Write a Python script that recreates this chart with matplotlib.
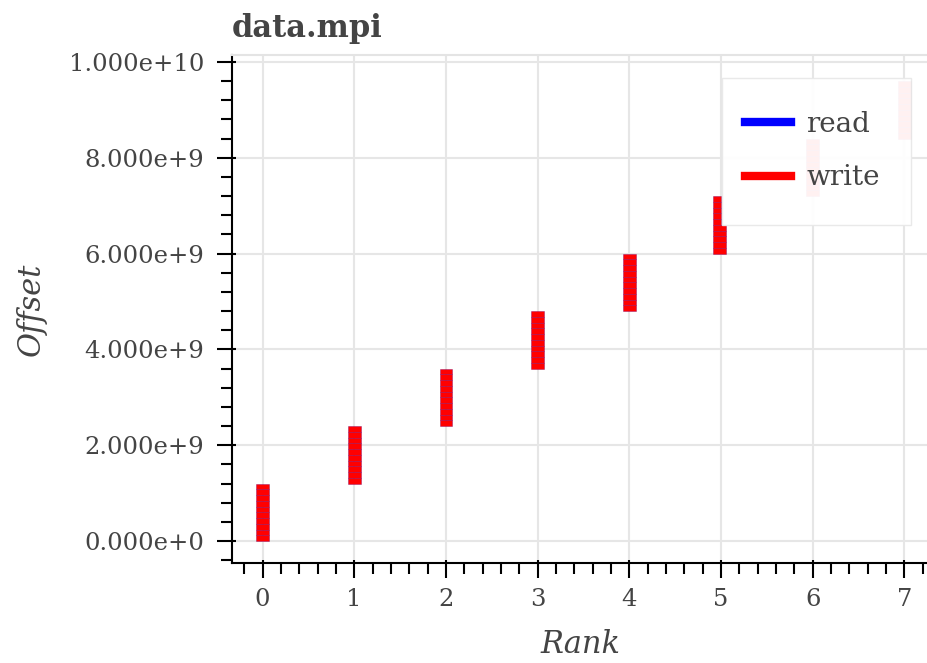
import matplotlib
matplotlib.use("Agg")
import matplotlib.pyplot as plt
from matplotlib.lines import Line2D
from matplotlib.patches import Rectangle
from matplotlib.ticker import FuncFormatter, MultipleLocator
import matplotlib.transforms as mtransforms

# write pattern per rank: contiguous region, split into equal blocks
ranks = [0, 1, 2, 3, 4, 5, 6, 7]
rank_start = [0.0, 1.2e9, 2.4e9, 3.6e9, 4.8e9, 6.0e9, 7.2e9, 8.4e9]
blocks_per_rank = [10, 10, 10, 10, 10, 10, 10, 10]
block_size = 1.2e8
# rank 5 upper blocks were drawn narrower (half width) in the original
narrow_rank = 5
narrow_from_block = 5

y_ticks = [0, 2e9, 4e9, 6e9, 8e9, 1e10]
x_ticks = [0, 1, 2, 3, 4, 5, 6, 7]

TXT = "#444444"
plt.rcParams["font.family"] = ["DejaVu Serif"]

fig = plt.figure(figsize=(9.28, 6.63), dpi=100)
ax = fig.add_axes([232 / 928, 1 - 563 / 663, 696 / 928, 508 / 663])

bar_w = 0.14
edge = (0.5, 0.0, 0.4, 0.45)
for r, start, n in zip(ranks, rank_start, blocks_per_rank):
    for k in range(n):
        bottom = start + k * block_size
        if r == narrow_rank:
            w = bar_w * 0.65 if k >= narrow_from_block else bar_w
            ax.bar(r - 0.09, block_size, bottom=bottom, width=w, align="edge",
                   color="red", edgecolor=edge, linewidth=0.6, zorder=2)
        else:
            ax.bar(r, block_size, bottom=bottom, width=bar_w,
                   color="red", edgecolor=edge, linewidth=0.6, zorder=2)

ax.set_xlim(-0.333, 7.257)
ax.set_ylim(-4.59e8, 1.0146e10)

ax.set_xticks(x_ticks)
ax.set_yticks(y_ticks)
ax.xaxis.set_minor_locator(MultipleLocator(0.2))
ax.yaxis.set_minor_locator(MultipleLocator(4e8))


def sci(v, pos):
    mant, exp = f"{v:.3e}".split("e")
    e = int(exp)
    return f"{mant}e{'+' if e >= 0 else '-'}{abs(e)}"


ax.yaxis.set_major_formatter(FuncFormatter(sci))

ax.grid(True, which="major", color="#e6e6e6", linewidth=1.5, zorder=0)
ax.set_axisbelow(True)

for s in ["left", "bottom"]:
    ax.spines[s].set_color("black")
    ax.spines[s].set_linewidth(1.5)
ax.spines["top"].set_color("#e4e4e4")
ax.spines["top"].set_linewidth(1.5)
ax.spines["right"].set_visible(False)

ax.tick_params(which="major", direction="out", length=11, width=1.5,
               color="black", labelsize=17.5, labelcolor=TXT)
ax.tick_params(which="minor", direction="out", length=8, width=1.5, color="black")
ax.tick_params(axis="y", which="major", pad=9)
ax.tick_params(axis="x", which="major", pad=7)

# short inner part of the major ticks
ty = mtransforms.blended_transform_factory(ax.transAxes, ax.transData)
tx = mtransforms.blended_transform_factory(ax.transData, ax.transAxes)
for y in y_ticks:
    ax.plot([0], [y], marker=1, markersize=3, mew=1.5, color="black",
            transform=ty, clip_on=False, zorder=5)
for x in x_ticks:
    ax.plot([x], [0], marker=2, markersize=2.5, mew=1.5, color="black",
            transform=tx, clip_on=False, zorder=5)

ax.set_xlabel("Rank", fontsize=22, style="italic", color=TXT, labelpad=13)
ax.set_ylabel("Offset", fontsize=22, style="italic", color=TXT, labelpad=16)
ax.set_title("data.mpi", loc="left", fontsize=22, fontweight="bold", color=TXT, pad=13)

# legend box (semi-transparent, like the original)
ax.add_patch(Rectangle((0.704, 0.6654), 0.2716, 0.2894, transform=ax.transAxes,
                       facecolor="white", alpha=0.95, edgecolor="#e8e8e8",
                       linewidth=1.0, zorder=4, clip_on=False))
handles = [Line2D([], [], color="blue", lw=6), Line2D([], [], color="red", lw=6)]
leg = ax.legend(handles, ["read", "write"], loc="center left",
                bbox_to_anchor=(0.737, 0.811), fontsize=20, frameon=False,
                borderpad=0, labelspacing=0.96, handlelength=1.65,
                handletextpad=0.55, borderaxespad=0)
for t in leg.get_texts():
    t.set_color(TXT)

fig.savefig("out.png", dpi=100)
